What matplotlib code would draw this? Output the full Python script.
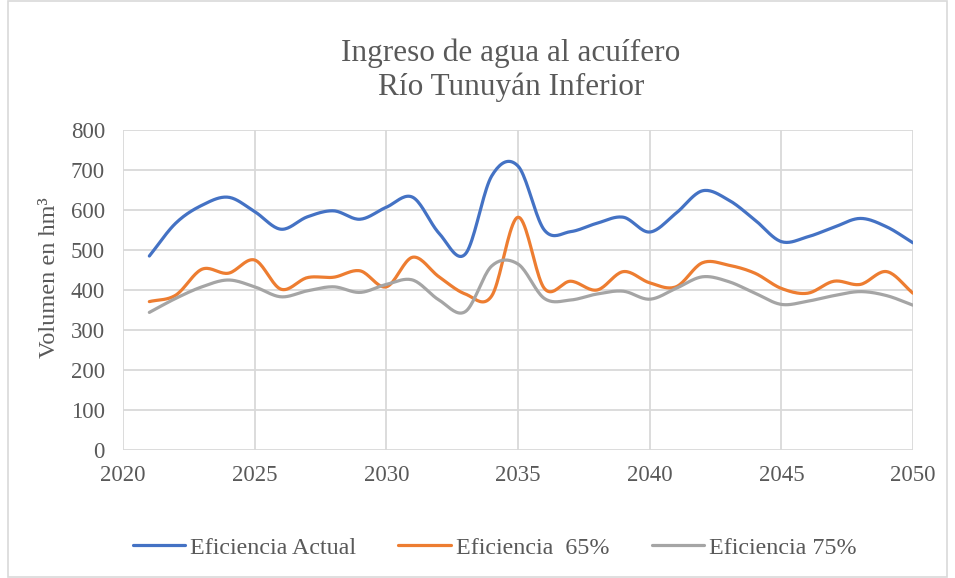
import numpy as np
import matplotlib.pyplot as plt
from matplotlib.patches import Rectangle

# data (hm3 per year)
years = list(range(2021, 2051))
actual = [485, 567, 612, 632, 596, 552, 583, 598, 577, 607,
          632, 542, 490, 685, 710, 550, 546, 567, 582, 545,
          592, 648, 625, 575, 521, 533, 557, 579, 558, 518]
ef65 = [371, 387, 452, 442, 475, 402, 431, 432, 448, 408,
        482, 433, 390, 385, 582, 404, 422, 400, 446, 418,
        408, 468, 462, 442, 404, 392, 422, 414, 446, 392]
ef75 = [344, 379, 408, 425, 408, 383, 398, 408, 394, 414,
        425, 375, 346, 460, 465, 379, 375, 390, 397, 377,
        404, 433, 421, 392, 364, 372, 386, 396, 386, 362]
labels = ['Eficiencia Actual', 'Eficiencia  65%', 'Eficiencia 75%']
colors = ['#4472C4', '#ED7D31', '#A5A5A5']


def smooth(x, y, n=20):
    # catmull-rom curve through the points, like excel's smoothed line
    x = np.asarray(x, float)
    y = np.asarray(y, float)
    px = np.concatenate([[2 * x[0] - x[1]], x, [2 * x[-1] - x[-2]]])
    py = np.concatenate([[2 * y[0] - y[1]], y, [2 * y[-1] - y[-2]]])
    t = np.linspace(0, 1, n, endpoint=False)
    xs, ys = [], []
    for i in range(1, len(px) - 2):
        for p, out in ((px, xs), (py, ys)):
            p0, p1, p2, p3 = p[i - 1], p[i], p[i + 1], p[i + 2]
            out.extend(0.5 * (2 * p1 + (-p0 + p2) * t
                              + (2 * p0 - 5 * p1 + 4 * p2 - p3) * t ** 2
                              + (-p0 + 3 * p1 - 3 * p2 + p3) * t ** 3))
    xs.append(x[-1])
    ys.append(y[-1])
    return np.array(xs), np.array(ys)


plt.rcParams['font.family'] = ['Liberation Serif', 'DejaVu Serif']
txt = '#595959'
grid = '#d9d9d9'

fig = plt.figure(figsize=(9.55, 5.78), dpi=100)
fig.patches.append(Rectangle((0.008, 0.002), 0.984, 0.996, transform=fig.transFigure,
                             fill=False, edgecolor=grid, linewidth=1.2))
ax = fig.add_axes([0.1288, 0.2215, 0.8272, 0.5535])

for vals, lab, c in zip([actual, ef65, ef75], labels, colors):
    sx, sy = smooth(years, vals)
    ax.plot(sx, sy, color=c, linewidth=2.3, label=lab, solid_capstyle='round')

ax.set_xlim(2020, 2050)
ax.set_ylim(0, 800)
ax.set_xticks(range(2020, 2051, 5))
ax.set_yticks(range(0, 801, 100))
ax.grid(True, color=grid, linewidth=1.3)
ax.set_axisbelow(True)
for s in ax.spines.values():
    s.set_visible(False)
ax.tick_params(axis='y', length=0, labelsize=16.5, colors=txt, pad=13)
ax.tick_params(axis='x', length=0, labelsize=16.5, colors=txt, pad=11)
ax.set_ylabel('Volumen en hm³', fontsize=17.5, color=txt)
ax.yaxis.set_label_coords(-0.08, 0.5375)

fig.text(0.535, 0.878, 'Ingreso de agua al acuífero\nRío Tunuyán Inferior',
         ha='center', va='center', fontsize=22.5, color=txt, linespacing=1.2)

fig.legend(loc='center', bbox_to_anchor=(0.518, 0.052), ncol=3, frameon=False,
           fontsize=17.3, labelcolor=txt, handlelength=2.2, handletextpad=0.2,
           columnspacing=1.75)

fig.savefig('out.png', dpi=100)
